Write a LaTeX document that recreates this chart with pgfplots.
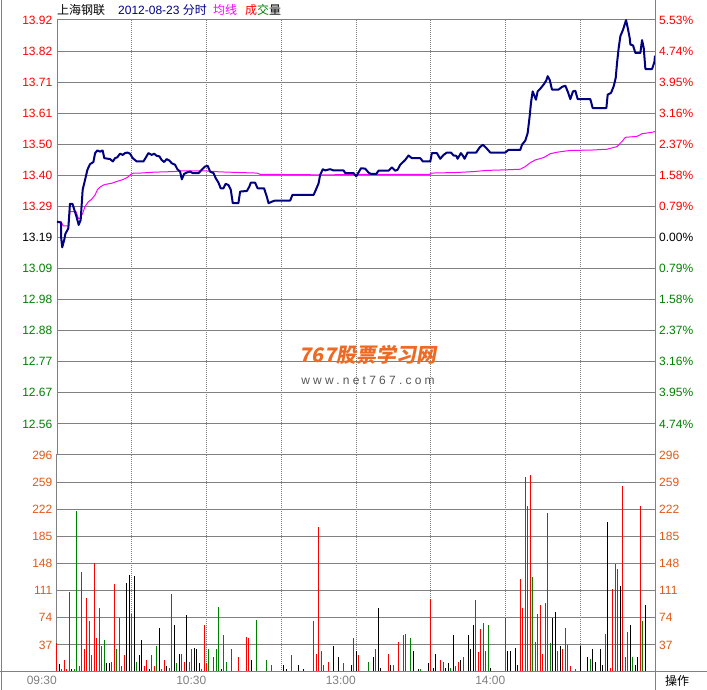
\documentclass[border=0pt]{standalone}
\usepackage{pgfplots}
\pgfplotsset{compat=1.18}
\usepackage{fontspec}
\setmainfont{Liberation Sans}
\newfontfamily\cjk{Noto Sans CJK SC}
\newfontfamily\wmfont[FakeSlant=0.18]{Noto Sans CJK SC}
\newfontfamily\wmurl[LetterSpace=27]{Liberation Sans}
\definecolor{gridgray}{RGB}{128,128,128}
\definecolor{upred}{RGB}{255,0,0}
\definecolor{dngreen}{RGB}{0,128,0}
\definecolor{pnavy}{RGB}{0,0,128}
\definecolor{avgmag}{RGB}{255,0,255}
\definecolor{volorange}{RGB}{226,88,22}
\definecolor{wmorange}{RGB}{238,105,35}
\definecolor{wmgray}{RGB}{85,85,85}
\pgfplotsset{
  panel/.style={
    scale only axis, width=598pt, xmin=0, xmax=240, clip=false,
    axis line style={draw=gridgray, line width=1pt},
    major tick length=0pt,
    xtick={30,60,90,150,180,210},
    xmajorgrids,
    major x grid style={draw=gridgray, line width=1pt, dash pattern=on 1pt off 1pt},
    extra x ticks={120},
    extra x tick style={grid=major, major grid style={draw=gridgray, line width=1pt, solid}},
    ymajorgrids,
    major y grid style={draw=gridgray, line width=1pt},
    every tick label/.append style={font=\fontsize{12pt}{14pt}\selectfont},
    yticklabel style={anchor=east, inner sep=0pt, xshift=-4.5pt},
  },
  rlabels/.style={
    scale only axis, width=598pt, xmin=0, xmax=240,
    axis y line*=right, axis x line=none,
    y axis line style={draw=none},
    major tick length=0pt,
    every tick label/.append style={font=\fontsize{12pt}{14pt}\selectfont},
    yticklabel style={anchor=west, inner sep=0pt, xshift=4pt},
  },
}
\begin{document}
\fontsize{12pt}{14pt}\selectfont
\begin{tikzpicture}[x=1pt,y=1pt,font=\fontsize{12pt}{14pt}\selectfont]
\path[use as bounding box] (0,0) rectangle (707,690);

% ---------------- price panel ----------------
\begin{axis}[panel, at={(57pt,235pt)}, anchor=south west, height=435pt,
  ymin=12.4606, ymax=13.9194,
  xticklabels={,,,,,}, extra x tick labels={},
  ytick={12.5648,12.6690,12.7732,12.8774,12.9816,13.0858,13.2942,13.3984,13.5026,13.6068,13.7110,13.8152,13.9194},
  yticklabels={\textcolor{dngreen}{12.56},\textcolor{dngreen}{12.67},\textcolor{dngreen}{12.77},\textcolor{dngreen}{12.88},\textcolor{dngreen}{12.98},\textcolor{dngreen}{13.09},\textcolor{upred}{13.29},\textcolor{upred}{13.40},\textcolor{upred}{13.50},\textcolor{upred}{13.61},\textcolor{upred}{13.71},\textcolor{upred}{13.82},\textcolor{upred}{13.92}},
  extra y ticks={13.19}, extra y tick labels={13.19},
  extra y tick style={grid=major, major grid style={draw=gridgray, line width=2pt}},
]
% average price
\addplot[avgmag, line width=1pt, mark=none] coordinates {
(0,13.243)(1.6,13.243)(2.5,13.229)(4.55,13.229)(5.2,13.277)(7.6,13.277)(8.6,13.254)(9.2,13.254)
(10.3,13.271)(11.25,13.294)(12.6,13.310)(13.9,13.318)(15.3,13.333)(16.2,13.350)(17.3,13.359)
(18.6,13.366)(20.0,13.369)(22.0,13.372)(24.0,13.378)(26.0,13.383)(27.7,13.389)(28.65,13.394)
(29.6,13.402)(30.7,13.406)(33.3,13.406)(38.7,13.409)(46.7,13.411)(49.4,13.413)(60.1,13.413)
(65.5,13.410)(80.2,13.406)(81.5,13.402)(107,13.400)(128.4,13.402)(149.8,13.402)(150,13.406)
(160.5,13.408)(167.2,13.411)(172.55,13.415)(180.6,13.417)(185.94,13.419)(187.95,13.428)
(189.96,13.441)(191.96,13.450)(195.31,13.458)(197.99,13.471)(200.67,13.476)(206.0,13.482)
(214.05,13.483)(220.75,13.486)(224.76,13.495)(226.77,13.512)(228.11,13.526)(232.8,13.529)
(234.8,13.538)(236.5,13.540)(238.82,13.543)(240,13.545)
};
% price
\addplot[pnavy, line width=2pt, mark=none, line join=round] coordinates {
(0,13.243)(1.6,13.240)(1.7,13.187)(2.1,13.157)(2.9,13.182)(3.35,13.202)(4.55,13.221)(5.2,13.303)
(6.2,13.303)(7.0,13.282)(7.9,13.258)(8.7,13.232)(9.5,13.249)(10.3,13.350)(11.25,13.383)
(12.2,13.417)(13.25,13.436)(14.6,13.443)(15.3,13.473)(16.2,13.482)(17.3,13.478)(18.3,13.482)
(19.0,13.456)(21.3,13.453)(22.4,13.445)(23.3,13.456)(24.2,13.459)(25.3,13.471)(26.4,13.467)
(27.3,13.473)(28.25,13.475)(29.3,13.471)(30.4,13.456)(32.0,13.445)(34.7,13.445)(35.7,13.459)
(36.7,13.473)(38.0,13.467)(39.0,13.471)(40.0,13.464)(41.1,13.462)(42.0,13.450)(43.0,13.443)
(44.0,13.453)(45.1,13.448)(46.05,13.439)(47.4,13.434)(48.3,13.419)(49.4,13.411)(50.1,13.385)
(51.0,13.403)(52.1,13.408)(53.4,13.411)(54.5,13.406)(56.8,13.406)(58.1,13.417)(59.4,13.428)
(60.5,13.430)(61.45,13.411)(62.8,13.406)(63.7,13.389)(64.8,13.374)(65.7,13.355)(66.8,13.355)
(67.7,13.370)(68.8,13.366)(69.75,13.350)(70.55,13.305)(72.8,13.305)(73.5,13.344)(76.2,13.346)
(77.1,13.359)(77.8,13.374)(79.5,13.374)(80.5,13.355)(83.1,13.355)(84.2,13.327)(84.9,13.305)
(86.2,13.310)(87.55,13.314)(93.6,13.314)(94.5,13.333)(103.0,13.333)(104.0,13.352)(105.0,13.372)
(105.6,13.400)(106.7,13.419)(107.6,13.415)(109.6,13.419)(111.0,13.415)(115.0,13.415)(115.7,13.406)
(119.0,13.406)(120.1,13.395)(121.0,13.408)(122.0,13.422)(123.7,13.421)(125.0,13.408)(126.0,13.403)
(128.1,13.403)(129.05,13.414)(133.06,13.414)(134.4,13.425)(135.74,13.414)(136.68,13.417)
(137.75,13.434)(139.75,13.450)(141.09,13.465)(142.43,13.456)(145.8,13.456)(146.85,13.445)
(149.8,13.445)(150.46,13.473)(152.47,13.473)(153.81,13.454)(155.15,13.467)(156.49,13.475)
(158.1,13.475)(159.17,13.465)(160.24,13.464)(160.77,13.454)(162.11,13.473)(162.91,13.464)
(163.58,13.454)(164.79,13.475)(168.27,13.475)(169.61,13.492)(170.95,13.501)(172.29,13.490)
(173.89,13.475)(179.92,13.475)(181.25,13.484)(185.94,13.484)(186.61,13.501)(187.95,13.515)
(188.89,13.540)(189.69,13.596)(190.22,13.641)(190.89,13.680)(191.7,13.663)(192.23,13.652)
(192.9,13.680)(193.97,13.689)(195.31,13.703)(196.38,13.717)(196.92,13.731)(197.72,13.719)
(198.66,13.686)(201.33,13.686)(202.67,13.695)(204.01,13.699)(204.95,13.680)(206.02,13.654)
(207.09,13.680)(208.03,13.682)(208.97,13.654)(214.05,13.654)(214.99,13.624)(220.48,13.624)
(221.01,13.669)(222.35,13.675)(223.42,13.697)(224.23,13.725)(224.76,13.775)(225.43,13.826)
(226.1,13.865)(227.17,13.887)(227.71,13.901)(228.38,13.919)(229.05,13.893)(229.85,13.859)
(230.12,13.837)(231.19,13.834)(232.12,13.809)(234.13,13.809)(234.8,13.852)(235.47,13.826)
(236.14,13.755)(238.82,13.755)(239.76,13.778)(240,13.800)
};
\end{axis}

\begin{axis}[rlabels, at={(57pt,235pt)}, anchor=south west, height=435pt,
  ymin=12.4606, ymax=13.9194,
  ytick={12.5648,12.6690,12.7732,12.8774,12.9816,13.0858,13.19,13.2942,13.3984,13.5026,13.6068,13.7110,13.8152,13.9194},
  yticklabels={\textcolor{dngreen}{4.74\%},\textcolor{dngreen}{3.95\%},\textcolor{dngreen}{3.16\%},\textcolor{dngreen}{2.37\%},\textcolor{dngreen}{1.58\%},\textcolor{dngreen}{0.79\%},0.00\%,\textcolor{upred}{0.79\%},\textcolor{upred}{1.58\%},\textcolor{upred}{2.37\%},\textcolor{upred}{3.16\%},\textcolor{upred}{3.95\%},\textcolor{upred}{4.74\%},\textcolor{upred}{5.53\%}},
]
\end{axis}

% ---------------- volume panel ----------------
\begin{axis}[panel, at={(57pt,18pt)}, anchor=south west, height=217pt,
  ymin=0, ymax=296,
  xtick={0,30,60,90,150,180,210},
  xticklabels={09:30,,10:30,,,14:00,},
  extra x tick labels={13:00},
  xticklabel style={anchor=east, inner sep=0pt, yshift=-8.5pt, text=gridgray},
  ytick={37,74,111,148,185,222,259},
  yticklabels={37,74,111,148,185,222,259},
  yticklabel style={text=volorange},
  extra y ticks={296}, extra y tick labels={296},
  extra y tick style={grid=major, major grid style={draw=gridgray, line width=2pt}},
]
\addplot[ycomb, draw=upred, line width=1pt, mark=none] coordinates {
(0,39)(3,16)(4,4)(5,109)(9,8)(10,137)(11,31)(12,101)(13,70)(14,23)(15,148)(16,46)(18,35)(23,120)
(25,74)(27,23)(35,8)(36,16)(39,8)(43,16)(51,14)(53,13)(58,4)(59,64)(60,12)(67,50)(73,21)(76,48)
(77,46)(86,9)(94,23)(103,70)(104,24)(105,198)(106,28)(109,14)(121,23)(128,31)(133,25)(137,41)
(139,50)(140,52)(150,100)(154,16)(155,14)(161,14)(164,2)(168,98)(169,27)(170,58)(180,73)(186,127)
(187,87)(188,266)(189,227)(190,269)(192,41)(193,79)(194,92)(195,24)(196,94)(201,28)(203,32)
(206,8)(220,52)(222,5)(223,113)(224,147)(225,140)(227,254)(234,227)(240,155)
};
\addplot[ycomb, draw=dngreen, line width=1pt, mark=none] coordinates {
(2,4)(7,4)(8,220)(17,87)(19,43)(22,14)(24,31)(26,8)(30,79)(32,13)(38,23)(40,35)(42,4)(45,5)
(46,106)(48,12)(50,25)(54,32)(61,31)(63,21)(64,32)(65,89)(68,13)(70,31)(80,71)(84,16)(107,9)
(110,1)(115,12)(119,46)(124,1)(125,14)(135,10)(142,46)(146,4)(158,6)(160,8)(163,20)(171,67)
(172,28)(173,64)(191,129)(197,217)(198,40)(204,60)(205,37)(208,4)(214,18)(228,20)(229,54)
(231,20)(235,69)
};
\addplot[ycomb, draw=black, line width=1pt, mark=none] coordinates {
(1,11)(6,4)(20,12)(21,12)(28,121)(29,132)(31,131)(33,23)(34,44)(37,4)(41,60)(44,8)(47,64)(49,25)
(52,78)(55,33)(56,32)(57,12)(66,4)(69,1)(74,1)(78,16)(91,10)(92,4)(97,10)(99,4)(111,35)(113,20)
(116,1)(118,9)(120,28)(127,20)(129,87)(130,6)(134,10)(143,29)(145,4)(147,1)(149,12)(151,6)
(152,24)(156,5)(157,12)(159,50)(162,16)(165,50)(166,31)(167,64)(174,6)(177,2)(181,29)(182,29)
(184,33)(185,10)(199,73)(200,82)(202,35)(210,35)(213,20)(215,31)(216,13)(218,31)(219,9)(221,205)
(226,117)(230,64)(232,10)(233,21)(236,92)
};
\end{axis}

\begin{axis}[rlabels, at={(57pt,18pt)}, anchor=south west, height=217pt,
  ymin=0, ymax=296,
  ytick={37,74,111,148,185,222,259,296},
  yticklabels={37,74,111,148,185,222,259,296},
  yticklabel style={text=volorange},
]
\end{axis}

% ---------------- frame ----------------
\draw[gridgray, line width=1pt] (1,0) -- (1,690);
\draw[gridgray, line width=1pt] (0,18) -- (707,18);
\draw[gridgray, line width=1pt] (655.5,0) -- (655.5,690);
\node[inner sep=0pt] at (677,9) {\cjk 操作};

% ---------------- title ----------------
\node[anchor=base west, inner sep=0pt] at (57,675) {\cjk 上海钢联};
\node[anchor=base west, inner sep=0pt, text=pnavy] at (118,675) {2012-08-23 {\cjk 分时}};
\node[anchor=base west, inner sep=0pt, text=avgmag] at (213,675) {\cjk 均线};
\node[anchor=base west, inner sep=0pt] at (245,675) {\cjk\textcolor{upred}{成}\textcolor{dngreen}{交}量};

% ---------------- watermark ----------------
\node[text=wmorange, inner sep=0pt, font=\fontsize{20pt}{22pt}\selectfont\wmfont\bfseries] at (368,335) {767股票学习网};
\node[text=wmgray, inner sep=0pt, font=\fontsize{12pt}{14pt}\selectfont\wmurl] at (368,310) {www.net767.com};
\end{tikzpicture}
\end{document}
